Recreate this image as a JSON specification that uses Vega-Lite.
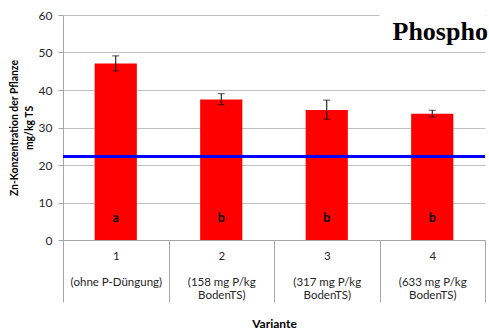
{
  "$schema": "https://vega.github.io/schema/vega-lite/v6.json",
  "autosize": {"type": "none"},
  "width": 422,
  "height": 225,
  "padding": {"left": 63, "top": 15, "right": 4, "bottom": 91},
  "background": "white",
  "config": {
    "view": {"stroke": null},
    "font": "Lato",
    "axis": {
      "labelFont": "Lato",
      "titleFont": "Lato",
      "labelFontSize": 12,
      "labelColor": "#262626",
      "titleColor": "black",
      "titleFontSize": 10.4,
      "titleFontWeight": "bold",
      "domainColor": "#a6a6a6",
      "tickColor": "#a6a6a6",
      "gridColor": "#c0c0c0"
    },
    "axisX": {
      "titlePadding": 16,
      "titleFontSize": 12,
      "labelAngle": 0,
      "labelFontSize": 11.5,
      "labelLineHeight": 13,
      "labelBaseline": "top",
      "labelPadding": -52,
      "labelOverlap": false,
      "tickBand": "extent",
      "tickSize": 62,
      "grid": false
    },
    "axisY": {
      "titleLineHeight": 15,
      "titlePadding": 4,
      "tickSize": 5,
      "labelPadding": 6,
      "grid": true
    }
  },
  "datasets": {
    "werte": [
      {"Variante": "1|\u2800|(ohne P-Düngung)", "Zn": 47.1, "lo": 45.1, "hi": 49.1, "Gruppe": "a"},
      {"Variante": "2|\u2800|(158 mg P/kg|BodenTS)", "Zn": 37.5, "lo": 36.1, "hi": 39.0, "Gruppe": "b"},
      {"Variante": "3|\u2800|(317 mg P/kg|BodenTS)", "Zn": 34.7, "lo": 32.2, "hi": 37.3, "Gruppe": "b"},
      {"Variante": "4|\u2800|(633 mg P/kg|BodenTS)", "Zn": 33.7, "lo": 32.8, "hi": 34.6, "Gruppe": "b"}
    ],
    "kasten": [
      {"Variante": "4|\u2800|(633 mg P/kg|BodenTS)", "unten": 54.5, "oben": 62, "Basis": 53.3, "Titel": "Phospho"}
    ],
    "grenze": [
      {"Grenzwert": 22.3}
    ]
  },
  "layer": [
    {
      "data": {"name": "werte"},
      "mark": {"type": "bar", "color": "#ff0000", "width": {"band": 0.4}},
      "encoding": {
        "x": {
          "field": "Variante", "type": "nominal", "sort": null,
          "scale": {"paddingInner": 0, "paddingOuter": 0},
          "axis": {"title": "Variante", "labelExpr": "isValid(datum.value) ? split(datum.value, '|') : ''"}
        },
        "y": {
          "field": "Zn", "type": "quantitative",
          "scale": {"domain": [0, 60], "nice": false},
          "axis": {"title": ["Zn-Konzentration der Pflanze", "mg/kg TS"], "values": [0, 10, 20, 30, 40, 50, 60]}
        }
      }
    },
    {
      "data": {"name": "kasten"},
      "mark": {"type": "rect", "color": "white"},
      "encoding": {
        "x": {"field": "Variante", "type": "nominal", "sort": null,
          "axis": {"title": "Variante", "labelExpr": "isValid(datum.value) ? split(datum.value, '|') : ''"}},
        "y": {"field": "unten", "type": "quantitative",
          "axis": {"title": ["Zn-Konzentration der Pflanze", "mg/kg TS"], "values": [0, 10, 20, 30, 40, 50, 60]}},
        "y2": {"field": "oben"}
      }
    },
    {
      "data": {"name": "kasten"},
      "mark": {"type": "text", "align": "left", "baseline": "alphabetic", "dx": 13, "font": "Liberation Serif", "fontWeight": "bold", "fontSize": 26, "color": "black"},
      "encoding": {
        "x": {"field": "Variante", "type": "nominal", "sort": null, "bandPosition": 0,
          "axis": {"title": "Variante", "labelExpr": "isValid(datum.value) ? split(datum.value, '|') : ''"}},
        "y": {"field": "Basis", "type": "quantitative",
          "axis": {"title": ["Zn-Konzentration der Pflanze", "mg/kg TS"], "values": [0, 10, 20, 30, 40, 50, 60]}},
        "text": {"field": "Titel"}
      }
    },
    {
      "data": {"name": "werte"},
      "mark": {"type": "errorbar", "ticks": {"size": 7, "color": "black"}, "rule": {"color": "black", "strokeWidth": 1}},
      "encoding": {
        "x": {"field": "Variante", "type": "nominal", "sort": null,
          "axis": {"title": "Variante", "labelExpr": "isValid(datum.value) ? split(datum.value, '|') : ''"}},
        "y": {"field": "lo", "type": "quantitative",
          "axis": {"title": ["Zn-Konzentration der Pflanze", "mg/kg TS"], "values": [0, 10, 20, 30, 40, 50, 60]}},
        "y2": {"field": "hi"}
      }
    },
    {
      "data": {"name": "grenze"},
      "mark": {"type": "rule", "color": "#0000ff", "strokeWidth": 3},
      "encoding": {
        "y": {"field": "Grenzwert", "type": "quantitative",
          "axis": {"title": ["Zn-Konzentration der Pflanze", "mg/kg TS"], "values": [0, 10, 20, 30, 40, 50, 60]}}
      }
    },
    {
      "data": {"name": "werte"},
      "mark": {"type": "text", "fontWeight": "bold", "fontSize": 12.5, "color": "black", "baseline": "middle"},
      "encoding": {
        "x": {"field": "Variante", "type": "nominal", "sort": null,
          "axis": {"title": "Variante", "labelExpr": "isValid(datum.value) ? split(datum.value, '|') : ''"}},
        "y": {"datum": 6, "type": "quantitative",
          "axis": {"title": ["Zn-Konzentration der Pflanze", "mg/kg TS"], "values": [0, 10, 20, 30, 40, 50, 60]}},
        "text": {"field": "Gruppe"}
      }
    }
  ]
}
